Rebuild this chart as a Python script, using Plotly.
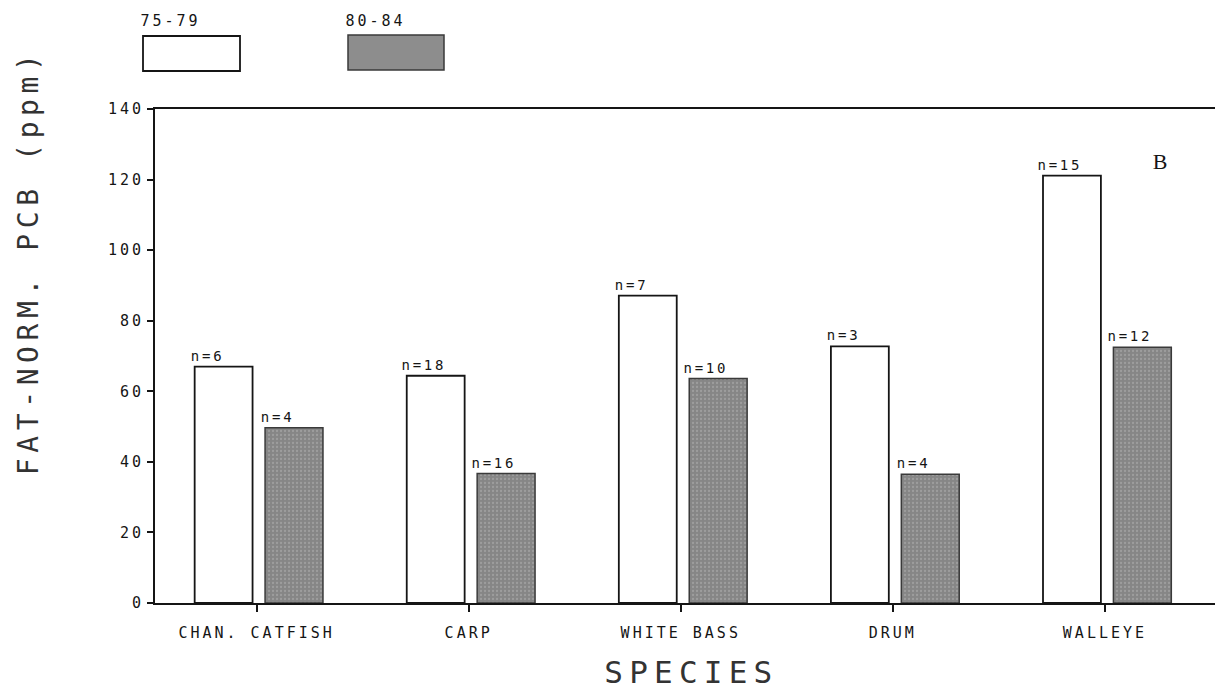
import plotly.graph_objects as go

# ---- data -------------------------------------------------------------
species = ["CHAN. CATFISH", "CARP", "WHITE BASS", "DRUM", "WALLEYE"]
pcb_75_79 = [67.0, 64.4, 87.1, 72.7, 121.1]
pcb_80_84 = [49.7, 36.7, 63.6, 36.5, 72.5]
n_75_79 = [6, 18, 7, 3, 15]
n_80_84 = [4, 16, 10, 4, 12]
period_labels = ["75-79", "80-84"]
y_ticks = [0, 20, 40, 60, 80, 100, 120, 140]

# ---- styling ----------------------------------------------------------
W, H = 1215, 690
M_L, M_R, M_T, M_B = 155, 0, 109, 87
INK = "#151515"
GRAY = "#8d8d8d"
MONO = "DejaVu Sans Mono"
BAR_W = 0.273
OFF_A = -0.292   # offset of the 75-79 bar from the category position
OFF_B = 0.040    # offset of the 80-84 bar

def paper_x(px):
    return (px - M_L) / (W - M_L - M_R)

def paper_y(py):
    return (H - M_B - py) / (H - M_T - M_B)

xpos = list(range(len(species)))

fig = go.Figure()
fig.add_trace(go.Bar(
    x=xpos, y=pcb_75_79, width=BAR_W, offset=OFF_A, name=period_labels[0],
    marker=dict(color="white", line=dict(color=INK, width=1.8)),
))
fig.add_trace(go.Bar(
    x=xpos, y=pcb_80_84, width=BAR_W, offset=OFF_B, name=period_labels[1],
    marker=dict(color=GRAY, line=dict(color="#3a3a3a", width=1.5),
                pattern=dict(shape=".", fgcolor="#b3b3b3", bgcolor="#868686",
                             size=4, solidity=0.25)),
))

annotations = []
# sample-size labels above each bar
for i in xpos:
    for vals, ns, off in ((pcb_75_79, n_75_79, OFF_A), (pcb_80_84, n_80_84, OFF_B)):
        annotations.append(dict(
            x=i + off, y=vals[i], xref="x", yref="y", text=f"n={ns[i]}",
            xanchor="left", yanchor="bottom", xshift=-2, yshift=1, showarrow=False,
            font=dict(family=MONO, size=14, color=INK),
        ))

# axis titles and panel letter
annotations += [
    dict(x=paper_x(28), y=paper_y(262), xref="paper", yref="paper",
         text="FAT-NORM. PCB (ppm)", textangle=-90, showarrow=False,
         xanchor="center", yanchor="middle",
         font=dict(family=MONO, size=28, color="#333")),
    dict(x=paper_x(691), y=paper_y(672), xref="paper", yref="paper",
         text="SPECIES", showarrow=False, xanchor="center", yanchor="middle",
         font=dict(family=MONO, size=31, color="#333")),
    dict(x=paper_x(1162), y=paper_y(161), xref="paper", yref="paper",
         text="B", showarrow=False, xanchor="center", yanchor="middle",
         font=dict(family="Liberation Serif", size=22, color=INK)),
]

# legend: labels and swatches
annotations += [
    dict(x=paper_x(146), y=paper_y(21), xref="paper", yref="paper",
         text=period_labels[0], showarrow=False, xanchor="left", yanchor="middle",
         font=dict(family=MONO, size=15, color=INK)),
    dict(x=paper_x(351), y=paper_y(21), xref="paper", yref="paper",
         text=period_labels[1], showarrow=False, xanchor="left", yanchor="middle",
         font=dict(family=MONO, size=15, color=INK)),
]
shapes = [
    dict(type="rect", xref="paper", yref="paper",
         x0=paper_x(143), x1=paper_x(240), y0=paper_y(71), y1=paper_y(36),
         fillcolor="white", line=dict(color=INK, width=1.8)),
    dict(type="rect", xref="paper", yref="paper",
         x0=paper_x(348), x1=paper_x(444), y0=paper_y(70), y1=paper_y(35),
         fillcolor=GRAY, line=dict(color="#3a3a3a", width=1.5)),
]

fig.update_layout(
    width=W, height=H,
    margin=dict(l=M_L, r=M_R, t=M_T, b=M_B),
    paper_bgcolor="white", plot_bgcolor="white",
    barmode="overlay", showlegend=False,
    annotations=annotations, shapes=shapes,
    xaxis=dict(
        range=[-0.479, 4.519], tickvals=xpos, ticktext=species,
        showline=True, mirror=True, linecolor=INK, linewidth=2,
        ticks="outside", ticklen=7, tickwidth=1.5, tickcolor=INK,
        showgrid=False, zeroline=False, ticklabelstandoff=8,
        tickfont=dict(family=MONO, size=15, color=INK),
    ),
    yaxis=dict(
        range=[0, 140], tickvals=y_ticks,
        showline=True, linecolor=INK, linewidth=2,
        ticks="outside", ticklen=6, tickwidth=1.5, tickcolor=INK,
        showgrid=False, zeroline=False,
        tickfont=dict(family=MONO, size=15, color=INK),
    ),
)

# widen the monospaced lettering to a plotter-style pitch
post = ("var s=document.createElement('style');"
        "s.textContent='.main-svg text{letter-spacing:0.2em}';"
        "document.head.appendChild(s);")

fig.write_html("out.html", config={"displayModeBar": False, "responsive": False},
               post_script=post)
